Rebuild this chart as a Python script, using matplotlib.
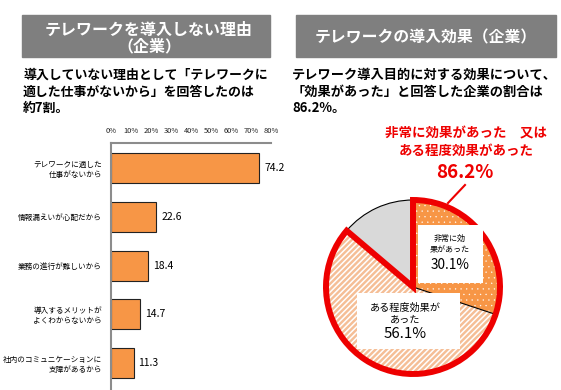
import matplotlib.pyplot as plt
from matplotlib.patches import Rectangle, Wedge

plt.rcParams['font.family'] = ['Noto Sans CJK JP', 'DejaVu Sans']

# data
reasons = [
    "テレワークに適した\n仕事がないから",
    "情報漏えいが心配だから",
    "業務の進行が難しいから",
    "導入するメリットが\nよくわからないから",
    "社内のコミュニケーションに\n支障があるから",
]
reason_pct = [74.2, 22.6, 18.4, 14.7, 11.3]
x_ticks = [0, 10, 20, 30, 40, 50, 60, 70, 80]

effect_labels = ["非常に効\n果があった", "ある程度効果が\nあった"]
effect_pct = [30.1, 56.1, 13.8]

W, H = 561, 390
ORANGE = "#F79646"
PEACH = "#F5BE96"
RED = "#EE0000"
HEAD = "#7F7F7F"


def fx(x):
    return x / W


def fy(y):
    return 1 - y / H


fig = plt.figure(figsize=(W / 100, H / 100), dpi=100)

# header boxes
for x0, x1 in [(22, 270), (296, 556)]:
    fig.patches.append(Rectangle((fx(x0), fy(57)), fx(x1 - x0), (57 - 15) / H,
                                 transform=fig.transFigure, color=HEAD, zorder=0))
fig.text(fx(149), fy(38), "テレワークを導入しない理由\n（企業）", color="white",
         fontsize=11.5, fontweight="bold", ha="center", va="center",
         linespacing=1.0)
fig.text(fx(426), fy(37), "テレワークの導入効果（企業）", color="white",
         fontsize=11.4, fontweight="bold", ha="center", va="center")

# subtitles
left_lines = ["導入していない理由として「テレワークに", "適した仕事がないから」を回答したのは", "約7割。"]
right_lines = ["テレワーク導入目的に対する効果について、", "「効果があった」と回答した企業の割合は", "86.2%。"]
for i, (l, r) in enumerate(zip(left_lines, right_lines)):
    y = 75 + i * 16.5
    fig.text(fx(23), fy(y), l, fontsize=9.3, fontweight="bold", va="center", ha="left")
    fig.text(fx(292), fy(y), r, fontsize=9.5, fontweight="bold", va="center", ha="left")

# bar chart
ax = fig.add_axes([fx(111), fy(390), (271 - 111) / W, (390 - 143) / H])
ypos = list(range(len(reasons)))
bars = ax.barh(ypos, reason_pct, height=0.615, color=ORANGE,
               edgecolor="#222222", linewidth=0.8)
ax.set_xlim(0, 80)
ax.set_ylim(4.55, -0.51)
ax.xaxis.tick_top()
ax.set_xticks(x_ticks)
ax.set_xticklabels([f"{t}%" for t in x_ticks], fontsize=5.4, color="#222222")
ax.set_yticks(ypos)
ax.set_yticklabels(reasons, fontsize=5.5, linespacing=1.35)
ax.tick_params(length=0)
ax.tick_params(axis="x", pad=6)
ax.tick_params(axis="y", pad=6.5)
for s in ["right", "bottom"]:
    ax.spines[s].set_visible(False)
for s in ["top", "left"]:
    ax.spines[s].set_color("#8C8C8C")
    ax.spines[s].set_linewidth(1.5)
ax.bar_label(bars, labels=[f"{v:.1f}" for v in reason_pct], padding=3.5, fontsize=7.5)

# pie chart
R = 87.0
S = 1.15
cx, cy = 413, 287
ax2 = fig.add_axes([fx(cx - S * R), fy(cy + S * R), 2 * S * R / W, 2 * S * R / H])
plt.rcParams['hatch.linewidth'] = 1.1
wedges, _ = ax2.pie(effect_pct, startangle=90, counterclock=False, radius=1,
                    colors=[ORANGE, PEACH, "#D9D9D9"])
wedges[0].set_hatch("...")
wedges[0].set_edgecolor("white")
wedges[0].set_linewidth(0)
if hasattr(wedges[0], "set_hatch_linewidth"):
    wedges[0].set_hatch_linewidth(0.2)
wedges[1].set_hatch("//////")
wedges[1].set_edgecolor("white")
wedges[1].set_linewidth(0)
wedges[2].set_edgecolor("black")
wedges[2].set_linewidth(0.8)
ax2.set_xlim(-S, S)
ax2.set_ylim(-S, S)

# thin boundary between the two effect wedges
ax2.add_patch(Wedge((0, 0), 1, wedges[0].theta1, wedges[0].theta2, fill=False,
                    edgecolor="black", linewidth=0.8, zorder=3))

# thick red outline around the combined effect share
eff = effect_pct[0] + effect_pct[1]
end = 90 - 360 * eff / 100
ax2.add_patch(Wedge((0, 0), 1, end, 90, fill=False, edgecolor=RED,
                    linewidth=4.3, joinstyle="miter", zorder=4))


def pd(x, y):
    return (x - cx) / R, (cy - y) / R


# label boxes
for (x0, y0, x1, y1) in [(418, 225, 483, 283), (357, 293, 460, 349)]:
    a, b = pd(x0, y1)
    c, d = pd(x1, y0)
    ax2.add_patch(Rectangle((a, b), c - a, d - b, facecolor="white",
                            edgecolor="none", zorder=5))
ax2.text(*pd(450, 244), effect_labels[0], fontsize=5.8, ha="center", va="center",
         linespacing=1.3, zorder=6)
ax2.text(*pd(450, 265), f"{effect_pct[0]}%", fontsize=9.8, ha="center", va="center", zorder=6)
ax2.text(*pd(405, 314), effect_labels[1], fontsize=7.3, ha="center", va="center",
         linespacing=1.2, zorder=6)
ax2.text(*pd(405, 334), f"{effect_pct[1]}%", fontsize=10.8, ha="center", va="center", zorder=6)

# red callout
fig.text(fx(466), fy(133), "非常に効果があった　又は", color=RED, fontsize=9.7,
         fontweight="bold", ha="center", va="center")
fig.text(fx(466), fy(151), "ある程度効果があった", color=RED, fontsize=9.7,
         fontweight="bold", ha="center", va="center")
fig.text(fx(465), fy(172), f"{eff:.1f}%", color=RED, fontsize=13.5,
         fontweight="bold", ha="center", va="center")
fig.lines.append(plt.Line2D([fx(448), fx(465)], [fy(203), fy(185)],
                            transform=fig.transFigure, color=RED, linewidth=1.5))

fig.savefig("out.png", dpi=100)
